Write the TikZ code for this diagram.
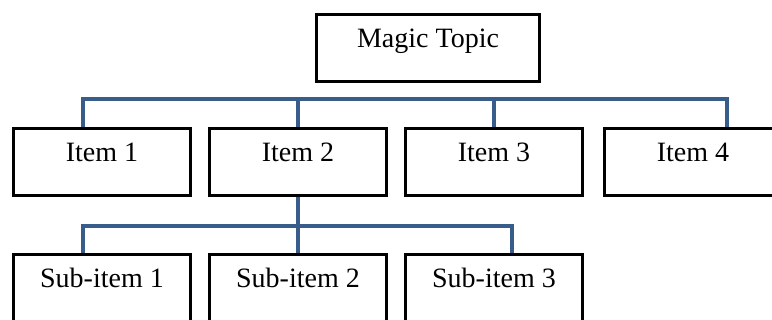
\documentclass[tikz,border=0pt]{standalone}
\usepackage{fontspec}
\setmainfont{Liberation Serif}
\usetikzlibrary{positioning}
\definecolor{busblue}{RGB}{56,93,138}
\tikzset{
  box/.style={rectangle, draw=black, line width=3pt, minimum width=177pt, minimum height=67pt, inner sep=0pt, text height=20pt, text depth=20pt, font=\fontsize{28}{33}\selectfont}, % Define the box style
  bus/.style={draw=busblue, line width=3.5pt} % Define the connector style
}

\begin{document}
\begin{tikzpicture}[x=1pt, y=-1pt]
    \useasboundingbox (0,0) rectangle (772,320);

    % Nodes
    \node [box, minimum width=223pt] (topic) at (428,48) {Magic Topic};
    \node [box] (item1) at (102,162) {Item 1};
    \node [box, right=16pt of item1] (item2) {Item 2};
    \node [box, right=16pt of item2] (item3) {Item 3};
    \node [box, right=19pt of item3] (item4) {Item 4};

    \node [box, below=56pt of item1] (sub1) {Sub-item 1};
    \node [box, right=16pt of sub1] (sub2) {Sub-item 2};
    \node [box, right=16pt of sub2] (sub3) {Sub-item 3};

    \coordinate (topbus) at (0,99);
    \coordinate (subbus) at (0,226);
    \coordinate (stem1) at ([xshift=-19pt]item1.north);
    \coordinate (stem4) at ([xshift=34pt]item4.north);
    \coordinate (substem1) at ([xshift=-19pt]sub1.north);
    \coordinate (substem3) at ([xshift=18pt]sub3.north);

    % Edges
    \draw[bus] (stem1) |- (topbus -| stem4) -- (stem4);
    \draw[bus] (item2.north) -- (item2.north |- topbus);
    \draw[bus] (item3.north) -- (item3.north |- topbus);

    \draw[bus] (substem1) |- (subbus -| substem3) -- (substem3);
    \draw[bus] (item2.south) -- (sub2.north);

\end{tikzpicture}
\end{document}
